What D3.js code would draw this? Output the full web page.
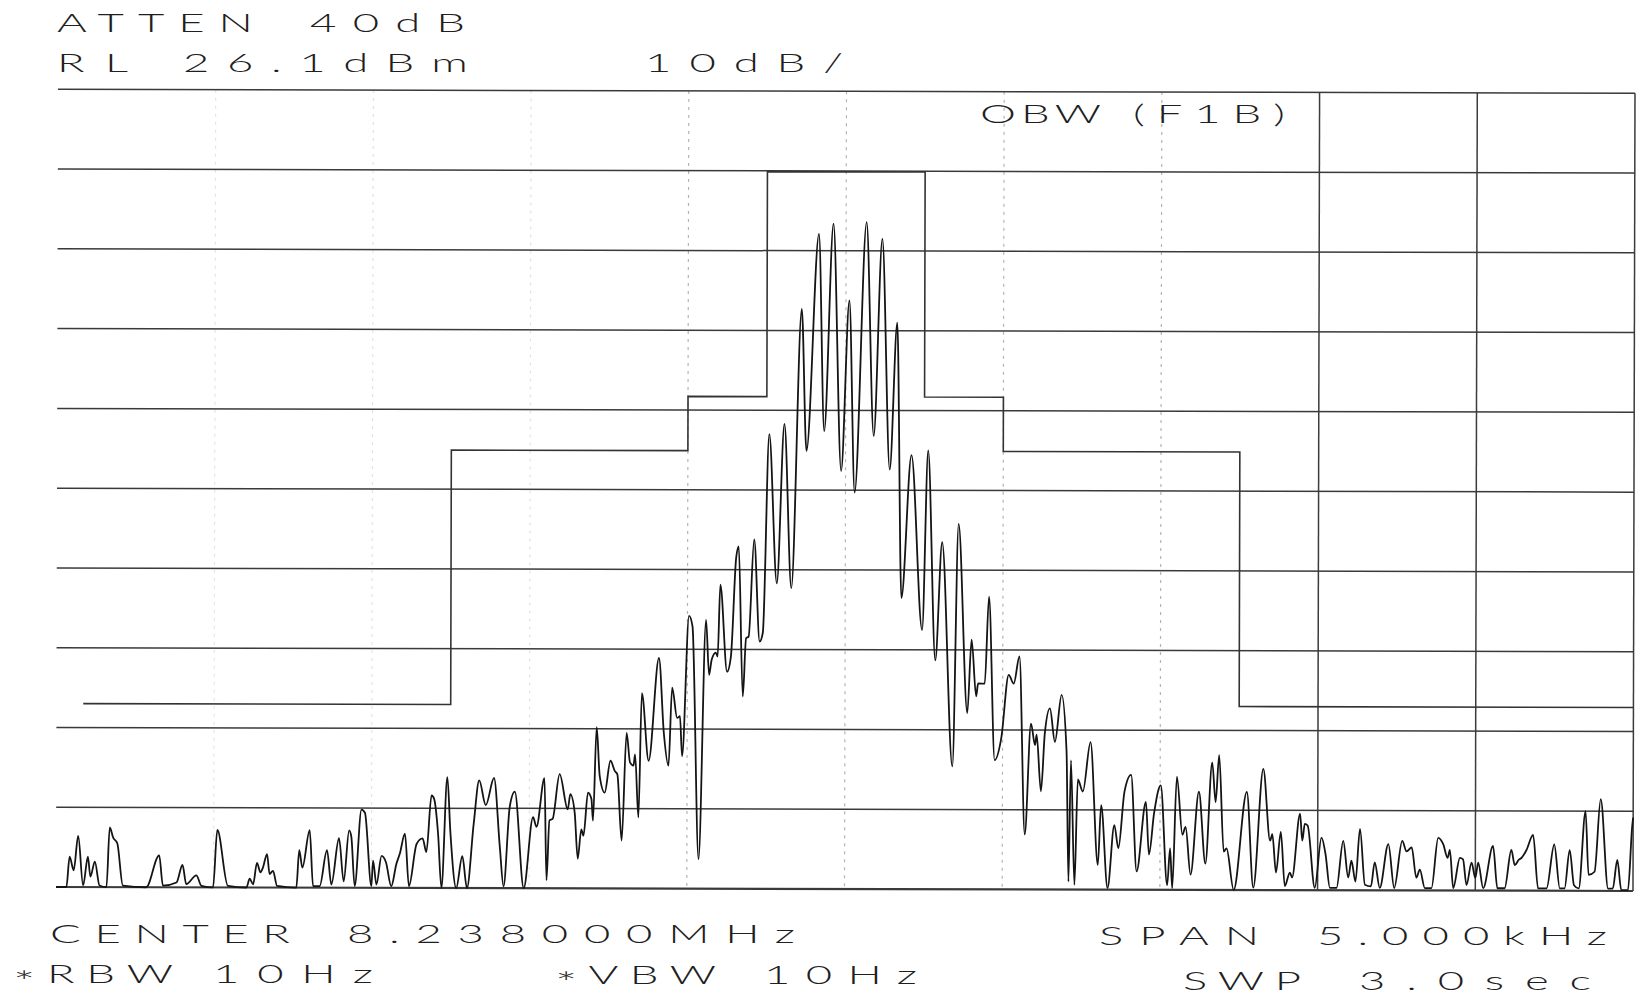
<!DOCTYPE html>
<html>
<head>
<meta charset="utf-8">
<script src="https://cdn.jsdelivr.net/npm/d3@7"></script>
<style>
html, body { margin: 0; padding: 0; background: #fff; }
svg text { font-family: Lato, 'Open Sans', sans-serif; font-weight: 300; fill: #1f1f1f; }
</style>
</head>
<body>
<svg width="1652" height="1001"></svg>
<script>
// analyser settings
var centerMHz = 8.238;
var spanHz = 5000;
var refLevel = 26.1;   // dBm, top line
var dbPerDiv = 10;
var attenDb = 40;
var rbwHz = 10, vbwHz = 10, sweepSec = 3.0;

// grid lines (Hz offset from center / dBm)
var xGrid = [-2000, -1500, -1000, -500, 0, 500, 1000, 1500, 2000, 2500];
var yGrid = [26.1, 16.1, 6.1, -3.9, -13.9, -23.9, -33.9, -43.9, -53.9, -63.9, -73.9];

// OBW (F1B) mask: edge frequency and level that starts there
var maskHz  = [-2415, -1250, -500, -250, 250, 500, 1250, 2500];
var maskDbm = [-50.9, -19.0, -12.2, 16.0, -12.2, -19.0, -50.9, -50.9];

// trace: [Hz offset, dBm]
var trace = [
  [-2500,-73.9],[-2467,-73.9],[-2457,-70.1],[-2444,-71.8],[-2430,-67.5],[-2414,-73.7],[-2399,-70.1],[-2391,-72.6],
  [-2377,-70.7],[-2362,-73.7],[-2340,-73.9],[-2330,-66.4],[-2319,-67.7],[-2306,-68.4],[-2288,-73.7],[-2214,-73.9],
  [-2173,-69.9],[-2161,-73.7],[-2118,-73.3],[-2099,-71.1],[-2087,-73.5],[-2055,-72.4],[-2039,-73.7],[-2002,-73.9],
  [-1989,-66.7],[-1955,-73.7],[-1896,-73.9],[-1886,-72.8],[-1875,-73.5],[-1863,-70.8],[-1852,-72.0],[-1844,-71.4],
  [-1831,-69.7],[-1823,-72.2],[-1812,-71.8],[-1799,-73.7],[-1738,-73.9],[-1729,-69.2],[-1719,-71.4],[-1696,-66.7],
  [-1685,-73.7],[-1664,-73.7],[-1641,-69.2],[-1627,-73.5],[-1603,-67.7],[-1588,-73.1],[-1571,-66.7],[-1564,-67.5],
  [-1553,-73.7],[-1532,-64.1],[-1521,-64.5],[-1500,-73.7],[-1495,-70.5],[-1484,-73.5],[-1468,-69.9],[-1454,-70.7],
  [-1437,-73.7],[-1421,-70.9],[-1410,-69.6],[-1394,-67.1],[-1381,-73.7],[-1357,-68.4],[-1338,-67.7],[-1326,-69.4],
  [-1310,-62.3],[-1302,-62.7],[-1289,-67.1],[-1278,-73.9],[-1260,-60.0],[-1250,-66.9],[-1231,-73.9],[-1212,-69.9],
  [-1197,-73.9],[-1176,-65.8],[-1159,-60.4],[-1138,-63.5],[-1112,-60.1],[-1093,-68.8],[-1081,-73.7],[-1062,-63.7],
  [-1046,-61.8],[-1017,-73.9],[-988,-65.0],[-977,-66.2],[-952,-60.1],[-945,-72.9],[-936,-65.4],[-926,-65.2],
  [-904,-59.6],[-878,-64.0],[-870,-62.1],[-856,-64.4],[-846,-70.2],[-835,-66.5],[-828,-67.3],[-814,-61.9],
  [-803,-62.7],[-798,-65.4],[-787,-53.7],[-777,-59.8],[-761,-61.9],[-743,-57.9],[-729,-59.2],[-721,-59.6],
  [-707,-67.9],[-692,-54.4],[-681,-58.1],[-670,-58.5],[-665,-57.1],[-654,-65.0],[-644,-49.4],[-622,-57.9],
  [-590,-45.0],[-574,-54.4],[-559,-58.5],[-548,-48.7],[-532,-52.5],[-523,-52.3],[-516,-57.3],[-495,-39.7],
  [-484,-41.0],[-463,-70.2],[-441,-40.2],[-431,-47.1],[-423,-45.2],[-410,-44.3],[-404,-44.8],[-396,-35.8],
  [-374,-46.7],[-362,-44.8],[-346,-32.4],[-338,-31.0],[-324,-49.8],[-314,-42.5],[-306,-42.3],[-289,-30.1],
  [-271,-42.9],[-261,-41.8],[-242,-16.9],[-217,-35.6],[-194,-15.6],[-171,-36.2],[-140,-1.2],[-124,-19.0],
  [-86,8.2],[-68,-16.5],[-40,9.5],[-14,-21.5],[11,-0.1],[29,-24.2],[65,9.7],[89,-17.1],
  [115,7.6],[140,-21.3],[163,-2.9],[178,-37.4],[209,-19.5],[244,-41.4],[262,-18.9],[286,-45.2],
  [307,-30.4],[341,-58.5],[359,-28.1],[388,-51.8],[401,-42.6],[416,-49.7],[422,-48.1],[443,-48.1],
  [456,-37.2],[475,-57.7],[496,-54.9],[519,-47.0],[535,-48.1],[553,-44.7],[571,-67.0],[590,-53.1],
  [603,-55.8],[608,-54.5],[622,-61.6],[634,-54.3],[650,-51.2],[666,-55.4],[687,-49.5],[703,-56.6],
  [710,-72.9],[717,-57.7],[729,-73.3],[739,-60.1],[755,-61.6],[779,-55.4],[803,-70.8],[813,-63.3],
  [834,-73.7],[855,-65.8],[868,-68.7],[887,-61.6],[908,-59.5],[926,-71.6],[955,-62.9],[965,-69.5],
  [981,-64.3],[1002,-60.8],[1023,-73.3],[1032,-68.7],[1039,-73.7],[1053,-59.7],[1071,-67.0],[1081,-66.0],
  [1097,-72.0],[1123,-61.6],[1144,-70.6],[1165,-57.9],[1176,-62.9],[1187,-57.0],[1202,-69.1],[1211,-68.7],
  [1234,-73.9],[1275,-61.6],[1296,-73.6],[1327,-58.7],[1349,-67.7],[1356,-66.9],[1368,-71.7],[1383,-66.6],
  [1396,-73.4],[1412,-71.7],[1419,-72.3],[1444,-64.3],[1451,-67.7],[1459,-65.6],[1468,-65.8],[1491,-73.6],
  [1512,-67.3],[1525,-69.4],[1539,-73.6],[1560,-73.6],[1581,-67.7],[1597,-72.3],[1607,-70.2],[1620,-72.8],
  [1634,-66.2],[1650,-73.2],[1669,-73.4],[1681,-70.4],[1697,-73.6],[1724,-68.1],[1743,-73.6],[1768,-67.7],
  [1782,-69.0],[1798,-68.5],[1813,-72.3],[1824,-71.3],[1840,-73.6],[1861,-73.6],[1882,-67.3],[1898,-68.1],
  [1912,-69.8],[1919,-68.8],[1930,-73.6],[1951,-69.8],[1961,-70.0],[1972,-73.2],[1988,-70.4],[2000,-72.3],
  [2009,-70.4],[2025,-73.6],[2056,-68.3],[2070,-73.6],[2093,-73.6],[2114,-68.8],[2125,-70.7],[2138,-70.0],
  [2146,-69.8],[2162,-68.8],[2183,-66.9],[2199,-73.6],[2226,-73.6],[2250,-68.1],[2268,-73.6],[2283,-73.6],
  [2299,-68.8],[2313,-73.2],[2328,-73.6],[2349,-63.9],[2359,-71.9],[2378,-71.5],[2397,-62.4],[2421,-73.6],
  [2436,-73.6],[2450,-70.0],[2463,-73.8],[2484,-73.8],[2497,-65.8],[2500,-64.7]
];

// annotation strings, built from the settings above
var labels = [
  'ATTEN', attenDb + 'dB',
  'RL', refLevel.toFixed(1) + 'dBm', dbPerDiv + 'dB/',
  'OBW', '(F1B)',
  'CENTER', centerMHz.toFixed(6) + 'MHz', 'SPAN', (spanHz / 1000).toFixed(3) + 'kHz',
  '*RBW', rbwHz + 'Hz', '*VBW', vbwHz + 'Hz', 'SWP', sweepSec.toFixed(1) + 'sec'
];
// where each label sits: left, right, baseline
var labelBox = [
  [57, 253, 32], [310, 465, 32],
  [57, 128, 72], [183, 468, 72], [645, 843, 72],
  [980, 1101, 123], [1133, 1285, 123],
  [50, 290, 943], [347, 795, 943], [1099, 1259, 945], [1317, 1607, 945],
  [13, 173, 983], [213, 373, 983], [555, 716, 984], [764, 917, 984], [1183, 1301, 990], [1359, 1591, 990]
];

var plotL = 58, plotR = 1635, plotT = 89.3, plotB = 887;

var svg = d3.select('svg');

var x = d3.scaleLinear().domain([-spanHz / 2, spanHz / 2]).range([plotL, plotR]);
var y = d3.scaleLinear().domain([refLevel - 10 * dbPerDiv, refLevel]).range([plotB, plotT]);

// the scan is a little tilted
var plot = svg.append('g').attr('transform', 'rotate(0.145,' + plotL + ',' + plotT + ')');

plot.append('clipPath').attr('id', 'clip')
  .append('rect')
  .attr('x', plotL).attr('y', plotT - 2)
  .attr('width', plotR - plotL + 4).attr('height', plotB - plotT + 4);

// vertical grid
plot.selectAll('.vgrid').data(xGrid).enter().append('line')
  .attr('class', 'vgrid')
  .attr('x1', function(d) { return x(d); })
  .attr('x2', function(d) { return x(d); })
  .attr('y1', plotT).attr('y2', plotB)
  .attr('stroke', function(d) { return d >= 1500 ? '#3c3c3c' : (d >= -500 ? '#b4b4b4' : '#e4e4e4'); })
  .attr('stroke-width', function(d) { return d >= 1500 ? 1.5 : 1.2; })
  .attr('stroke-dasharray', function(d) { return d >= 1500 ? null : '3,5'; });

// horizontal grid
plot.selectAll('.hgrid').data(yGrid).enter().append('line')
  .attr('class', 'hgrid')
  .attr('x1', plotL).attr('x2', plotR)
  .attr('y1', function(d) { return y(d); })
  .attr('y2', function(d) { return y(d); })
  .attr('stroke', '#3a3a3a')
  .attr('stroke-width', function(d, i) { return i === yGrid.length - 1 ? 2.2 : 1.5; });

// mask
var mask = maskHz.map(function(h, i) { return [h, maskDbm[i]]; });
plot.append('path')
  .datum(mask)
  .attr('fill', 'none')
  .attr('stroke', '#333')
  .attr('stroke-width', 1.6)
  .attr('d', d3.line().curve(d3.curveStepAfter)
    .x(function(d) { return x(d[0]); })
    .y(function(d) { return y(d[1]); }));

// trace (pen plotter draws rounded peaks)
plot.append('path')
  .datum(trace)
  .attr('clip-path', 'url(#clip)')
  .attr('fill', 'none')
  .attr('stroke', '#141414')
  .attr('stroke-width', 1.8)
  .attr('stroke-linejoin', 'round')
  .attr('d', d3.line().curve(d3.curveMonotoneX)
    .x(function(d) { return x(d[0]); })
    .y(function(d) { return y(d[1]); }));

// text, stretched wide like the plotter lettering
var sx = 1.75;
var lbl = svg.selectAll('.lbl').data(labels).enter().append('text')
  .attr('class', 'lbl')
  .attr('font-size', 26)
  .attr('transform', function(d, i) { return 'translate(' + labelBox[i][0] + ',' + labelBox[i][2] + ') scale(' + sx + ',1)'; })
  .attr('textLength', function(d, i) { return (labelBox[i][1] - labelBox[i][0]) / sx; })
  .attr('lengthAdjust', 'spacing');

// the plotter's asterisk sits at mid height
lbl.each(function(d) {
  var t = d3.select(this);
  if (d.charAt(0) === '*') {
    t.append('tspan').attr('dy', 9).attr('font-size', 30).text('*');
    t.append('tspan').attr('dy', -9).text(d.slice(1));
  } else {
    t.text(d);
  }
});
</script>
</body>
</html>
